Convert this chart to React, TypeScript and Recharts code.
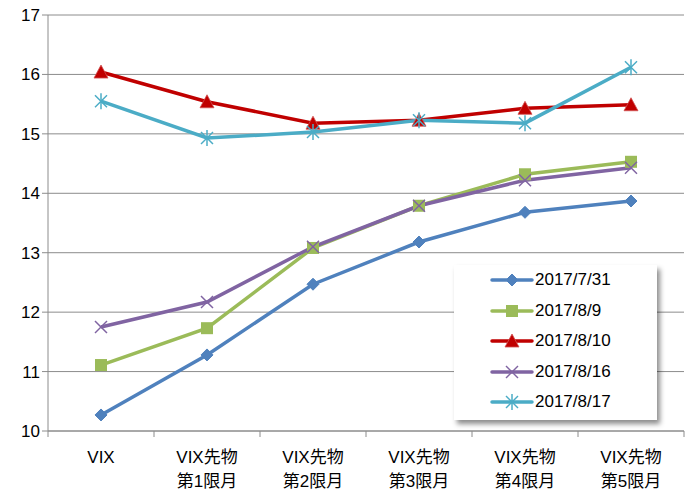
import React from "react";
import { CartesianGrid, Line, LineChart, XAxis, YAxis } from "recharts";

const categories = ["VIX", "VIX先物\n第1限月", "VIX先物\n第2限月", "VIX先物\n第3限月", "VIX先物\n第4限月", "VIX先物\n第5限月"];

const s0731 = [10.27, 11.28, 12.47, 13.18, 13.68, 13.87];
const s0809 = [11.11, 11.73, 13.08, 13.79, 14.32, 14.53];
const s0810 = [16.04, 15.54, 15.18, 15.23, 15.43, 15.49];
const s0816 = [11.75, 12.17, 13.1, 13.79, 14.22, 14.43];
const s0817 = [15.55, 14.93, 15.03, 15.23, 15.18, 16.12];

const yTicks = [10, 11, 12, 13, 14, 15, 16, 17];

const FONT = "'Liberation Sans', 'Noto Sans CJK JP', sans-serif";
const BAND = 106;

const series = [
  { key: "s0731", name: "2017/7/31", color: "#4F81BD", shape: "diamond" },
  { key: "s0809", name: "2017/8/9", color: "#9BBB59", shape: "square" },
  { key: "s0810", name: "2017/8/10", color: "#C00000", shape: "triangle" },
  { key: "s0816", name: "2017/8/16", color: "#8064A2", shape: "cross" },
  { key: "s0817", name: "2017/8/17", color: "#4BACC6", shape: "star" },
];

const data = categories.map((c, i) => ({
  name: c,
  s0731: s0731[i],
  s0809: s0809[i],
  s0810: s0810[i],
  s0816: s0816[i],
  s0817: s0817[i],
}));

const Marker = ({ cx, cy, shape, color }: { cx: number; cy: number; shape: string; color: string }) => {
  if (cx == null || cy == null) return null;
  switch (shape) {
    case "diamond":
      return <polygon points={`${cx},${cy - 6} ${cx + 6},${cy} ${cx},${cy + 6} ${cx - 6},${cy}`} fill={color} stroke={color} />;
    case "square":
      return <rect x={cx - 6} y={cy - 6} width={12} height={12} fill={color} />;
    case "triangle":
      return <polygon points={`${cx},${cy - 7} ${cx + 7},${cy + 6} ${cx - 7},${cy + 6}`} fill={color} stroke="#d05050" strokeWidth={0.8} />;
    case "cross":
      return (
        <g stroke={color} strokeWidth={1.5}>
          <line x1={cx - 6} y1={cy - 6} x2={cx + 6} y2={cy + 6} />
          <line x1={cx - 6} y1={cy + 6} x2={cx + 6} y2={cy - 6} />
        </g>
      );
    default:
      return (
        <g stroke={color} strokeWidth={1.5}>
          <line x1={cx - 6} y1={cy - 6} x2={cx + 6} y2={cy + 6} />
          <line x1={cx - 6} y1={cy + 6} x2={cx + 6} y2={cy - 6} />
          <line x1={cx} y1={cy - 8} x2={cx} y2={cy + 8} />
        </g>
      );
  }
};

const XTick = ({ x, y, payload, index }: any) => {
  const lines = String(payload.value).split("\n");
  const axisY = 431;
  return (
    <g>
      <line x1={x + BAND / 2} y1={axisY} x2={x + BAND / 2} y2={axisY + 6} stroke="#8c8c8c" />
      {index === 0 && <line x1={x - BAND / 2} y1={axisY} x2={x - BAND / 2} y2={axisY + 6} stroke="#8c8c8c" />}
      <text x={x} y={axisY + 32} textAnchor="middle" fontSize={17} fontFamily={FONT} fill="#000">
        {lines.map((l, i) => (
          <tspan key={i} x={x} dy={i === 0 ? 0 : 24}>
            {l}
          </tspan>
        ))}
      </text>
    </g>
  );
};

const Legend = () => (
  <div
    style={{
      position: "absolute",
      left: 454,
      top: 265,
      width: 203,
      height: 155,
      background: "#fff",
      boxShadow: "3px 4px 5px rgba(0,0,0,0.45)",
      fontFamily: FONT,
      fontSize: 17,
    }}
  >
    {series.map((s, i) => (
      <div key={s.key} style={{ position: "absolute", left: 36, top: 4 + i * 30.5, height: 22, display: "flex", alignItems: "center" }}>
        <svg width={44} height={22}>
          <line x1={2} y1={11} x2={42} y2={11} stroke={s.color} strokeWidth={3.5} strokeLinecap="round" />
          <Marker cx={22} cy={11} shape={s.shape} color={s.color} />
        </svg>
        <span style={{ marginLeft: 1 }}>{s.name}</span>
      </div>
    ))}
  </div>
);

export default function App() {
  return (
    <div style={{ position: "absolute", left: 0, top: 0, width: 690, height: 494, background: "#fff" }}>
      <LineChart width={690} height={494} data={data} margin={{ top: 15, right: 6, bottom: 8, left: 8 }}>
        <CartesianGrid vertical={false} stroke="#8c8c8c" strokeWidth={1} />
        <XAxis
          dataKey="name"
          interval={0}
          height={55}
          padding={{ left: BAND / 2, right: BAND / 2 }}
          tick={<XTick />}
          axisLine={{ stroke: "#8c8c8c" }}
          tickLine={false}
        />
        <YAxis
          domain={[10, 17]}
          ticks={yTicks}
          width={40}
          tick={{ fontSize: 17, fontFamily: FONT, fill: "#000" }}
          axisLine={{ stroke: "#8c8c8c" }}
          tickLine={{ stroke: "#8c8c8c" }}
          tickSize={6}
        />
        {series.map(s => (
          <Line
            key={s.key}
            dataKey={s.key}
            name={s.name}
            stroke={s.color}
            strokeWidth={3.5}
            isAnimationActive={false}
            dot={(p: any) => <Marker key={`${s.key}-${p.index}`} cx={p.cx} cy={p.cy} shape={s.shape} color={s.color} />}
            activeDot={false}
          />
        ))}
      </LineChart>
      <Legend />
    </div>
  );
}
